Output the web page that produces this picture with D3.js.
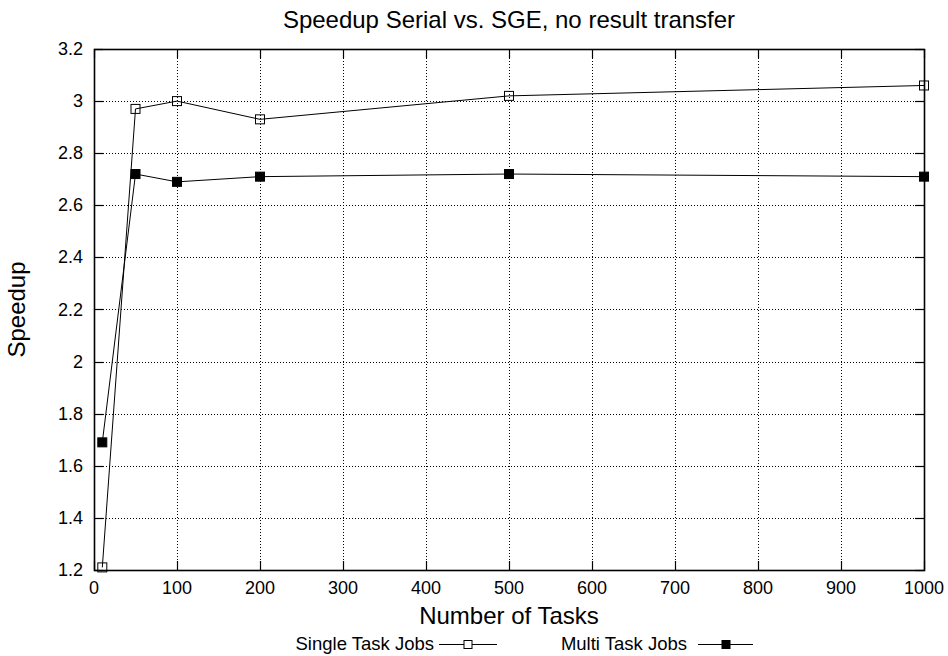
<!DOCTYPE html>
<html>
<head>
<script src="https://d3js.org/d3.v7.min.js"></script>
<style>
  body { margin: 0; background: #fff; font-family: "Liberation Sans", Arial, sans-serif; }
  .grid line { stroke: #000; stroke-width: 1; stroke-dasharray: 1,2; }
  .tick-label { font-size: 18px; fill: #000; }
</style>
</head>
<body>
<svg id="chart" width="948" height="656"></svg>
<script>
var tasks = [10, 50, 100, 200, 500, 1000];
var singleTask = [1.21, 2.97, 3.00, 2.93, 3.02, 3.06];
var multiTask = [1.69, 2.72, 2.69, 2.71, 2.72, 2.71];
var xTicks = [0, 100, 200, 300, 400, 500, 600, 700, 800, 900, 1000];
var yTicks = [1.2, 1.4, 1.6, 1.8, 2, 2.2, 2.4, 2.6, 2.8, 3, 3.2];

var margin = { top: 49, right: 24, bottom: 86, left: 94 },
    width = 948 - margin.left - margin.right,
    height = 656 - margin.top - margin.bottom;

var svg = d3.select("#chart");
var g = svg.append("g").attr("transform", "translate(" + margin.left + "," + margin.top + ")");

var x = d3.scaleLinear().domain([0, 1000]).range([0, width]);
var y = d3.scaleLinear().domain([1.2, 3.2]).range([height, 0]);

// grid
var grid = g.append("g").attr("class", "grid");
grid.selectAll(".gx").data(xTicks.slice(1, -1)).enter().append("line")
  .attr("x1", d => Math.round(x(d)) + 0.5).attr("x2", d => Math.round(x(d)) + 0.5)
  .attr("y1", 0).attr("y2", height);
grid.selectAll(".gy").data(yTicks.slice(1, -1)).enter().append("line")
  .attr("y1", d => Math.round(y(d)) + 0.5).attr("y2", d => Math.round(y(d)) + 0.5)
  .attr("x1", 0).attr("x2", width);

// ticks, mirrored and pointing inward
var tk = g.append("g").attr("stroke", "#000").attr("stroke-width", 1.2);
xTicks.forEach(function(d) {
  var xx = Math.round(x(d)) + 0.5;
  tk.append("line").attr("x1", xx).attr("x2", xx).attr("y1", height).attr("y2", height - 9);
  tk.append("line").attr("x1", xx).attr("x2", xx).attr("y1", 0).attr("y2", 9);
});
yTicks.forEach(function(d) {
  var yy = Math.round(y(d)) + 0.5;
  tk.append("line").attr("x1", 0).attr("x2", 9).attr("y1", yy).attr("y2", yy);
  tk.append("line").attr("x1", width).attr("x2", width - 9).attr("y1", yy).attr("y2", yy);
});

// border
g.append("rect").attr("x", 0.5).attr("y", 0.5).attr("width", width).attr("height", height)
  .attr("fill", "none").attr("stroke", "#000").attr("stroke-width", 1.6);

// tick labels
g.selectAll(".xl").data(xTicks).enter().append("text")
  .attr("class", "tick-label").attr("x", d => x(d)).attr("y", height + 24)
  .attr("text-anchor", "middle").text(d => d);
g.selectAll(".yl").data(yTicks).enter().append("text")
  .attr("class", "tick-label").attr("x", -11).attr("y", d => y(d) + 6)
  .attr("text-anchor", "end").text(d => d3.format("~g")(d));

// lines
var line = d3.line().x(d => x(d[0])).y(d => y(d[1]));
var singleData = tasks.map((t, i) => [t, singleTask[i]]);
var multiData = tasks.map((t, i) => [t, multiTask[i]]);

g.append("path").datum(singleData).attr("d", line).attr("fill", "none").attr("stroke", "#000").attr("stroke-width", 1);
g.append("path").datum(multiData).attr("d", line).attr("fill", "none").attr("stroke", "#000").attr("stroke-width", 1);

var ms = 9;
g.selectAll(".sp").data(singleData).enter().append("rect")
  .attr("x", d => x(d[0]) - ms / 2).attr("y", d => y(d[1]) - ms / 2)
  .attr("width", ms).attr("height", ms)
  .attr("fill", "none").attr("stroke", "#000").attr("stroke-width", 1);
g.selectAll(".mp").data(multiData).enter().append("rect")
  .attr("x", d => x(d[0]) - ms / 2).attr("y", d => y(d[1]) - ms / 2)
  .attr("width", ms).attr("height", ms)
  .attr("fill", "#000").attr("stroke", "#000").attr("stroke-width", 1);

// title and axis labels
svg.append("text").attr("x", margin.left + width / 2).attr("y", 28)
  .attr("text-anchor", "middle").style("font-size", "24px").text("Speedup Serial vs. SGE, no result transfer");
svg.append("text").attr("x", margin.left + width / 2).attr("y", 624)
  .attr("text-anchor", "middle").style("font-size", "24px").text("Number of Tasks");
svg.append("text").attr("transform", "translate(25," + (margin.top + height / 2) + ") rotate(-90)")
  .attr("text-anchor", "middle").style("font-size", "24px").text("Speedup");

// legend
var legend = [
  { label: "Single Task Jobs", textEnd: 434, x1: 439, x2: 497, fill: "#fff" },
  { label: "Multi Task Jobs", textEnd: 687, x1: 698, x2: 753, fill: "#000" }
];
legend.forEach(function(l) {
  svg.append("text").attr("x", l.textEnd).attr("y", 650).attr("text-anchor", "end")
    .style("font-size", "18.5px").text(l.label);
  svg.append("line").attr("x1", l.x1).attr("x2", l.x2).attr("y1", 644.5).attr("y2", 644.5)
    .attr("stroke", "#000");
  var cx = Math.round((l.x1 + l.x2) / 2);
  svg.append("rect").attr("x", cx - 4).attr("y", 640.5).attr("width", 8).attr("height", 8)
    .attr("fill", l.fill).attr("stroke", "#000");
});
</script>
</body>
</html>
